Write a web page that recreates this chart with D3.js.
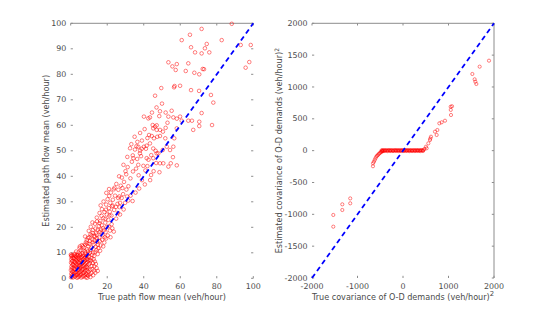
<!DOCTYPE html>
<html><head><meta charset="utf-8">
<script src="https://cdn.jsdelivr.net/npm/d3@7"></script>
<style>
html,body{margin:0;padding:0;background:#fff;}
svg text{font-family:"DejaVu Sans",sans-serif;fill:#4a4a4a;}
</style></head>
<body><svg id="chart" width="546" height="313"></svg>
<script>
// ---------- data ----------
const pathTicks = [0,10,20,30,40,50,60,70,80,90,100];
const pathXTicks = [0,20,40,60,80,100];
const covTicks = [-2000,-1500,-1000,-500,0,500,1000,1500,2000];
const covXTicks = [-2000,-1000,0,1000,2000];

// [true mean, estimated mean]
const pathPoints = [
[0.2,0.4],[0.3,1.8],[0.1,3.2],[0.4,4.6],[0.2,6.1],[0.3,7.4],[0.2,8.7],[0.5,9.0],
[1.2,0.3],[1.4,1.5],[1.1,2.9],[1.5,4.1],[1.3,5.5],[1.0,6.8],[1.6,8.0],[1.2,8.9],
[2.3,0.6],[2.6,2.0],[2.2,3.4],[2.7,4.9],[2.4,6.2],[2.8,7.6],[2.5,8.8],
[3.5,0.2],[3.7,1.4],[3.3,2.7],[3.9,4.0],[3.6,5.3],[3.4,6.7],[3.8,8.1],[3.5,9.1],
[4.6,0.8],[4.9,2.2],[4.4,3.5],[4.8,4.8],[4.5,6.0],[4.9,7.3],[4.7,8.6],
[5.8,0.3],[5.6,1.6],[6.1,3.0],[5.7,4.4],[6.0,5.7],[5.9,7.0],[6.2,8.3],
[7.0,0.9],[7.3,2.3],[6.9,3.7],[7.4,5.1],[7.1,6.4],[7.5,7.8],[7.2,9.0],
[8.2,0.4],[8.5,1.8],[8.1,3.2],[8.6,4.6],[8.3,6.0],[8.7,7.3],[8.4,8.8],
[9.5,1.0],[9.8,2.5],[9.3,4.0],[9.9,5.5],[9.6,7.0],[10.1,8.4],[9.7,9.6],
[0.7,1.1],[0.8,2.5],[0.6,3.9],[0.9,5.3],[0.7,6.7],[0.8,8.1],[0.1,9.3],
[1.9,1.0],[1.8,2.3],[2.0,3.8],[1.9,5.0],[2.0,6.5],[1.8,7.8],[2.1,9.2],
[3.0,1.2],[2.9,2.4],[3.1,4.3],[3.0,5.8],[3.1,7.1],[2.9,8.4],
[4.1,0.5],[4.2,2.0],[4.0,3.2],[4.3,4.6],[4.1,6.4],[4.2,7.7],[4.0,9.0],
[5.2,1.2],[5.3,2.6],[5.1,3.9],[5.3,5.2],[5.2,6.6],[5.4,8.0],[5.3,9.2],
[6.5,0.6],[6.6,2.1],[6.4,3.5],[6.6,4.8],[6.5,6.1],[6.7,7.4],[6.6,8.8],
[7.8,1.2],[7.7,2.7],[7.9,4.2],[7.7,5.6],[7.8,7.0],[7.9,8.3],
[9.0,0.2],[8.9,1.4],[9.1,3.1],[8.9,4.4],[9.1,6.3],[8.9,7.7],[9.2,9.0],
[10.8,0.5],[11.2,2.0],[10.6,3.4],[11.5,4.8],[12.3,1.2],[12.8,3.0],[13.5,2.2],[12.1,6.0],
[14.2,4.0],[13.8,5.6],[11.0,6.9],[12.6,7.5],[3.0,10.5],[5.0,12.5],[2.2,9.6],
[10.3,1.6],[10.5,5.9],[11.8,3.6],[11.3,7.9],[12.9,4.7],[13.2,6.6],[14.8,2.9],[10.4,7.3],
[4.2,10.1],[5.5,11.0],[6.4,9.8],[7.8,10.6],[8.9,11.3],[10.5,10.0],[11.8,9.2],[12.9,8.8],
[13.5,10.4],[14.8,9.5],[9.6,12.6],[7.2,12.1],[6.1,13.0],[8.3,14.1],[10.2,13.5],[11.4,12.0],
[12.5,13.2],[13.7,12.4],[15.2,11.8],[16.3,12.9],[14.5,14.4],[11.9,15.1],[9.4,15.8],[7.9,16.4],
[10.8,17.2],[12.7,16.6],[13.9,17.8],[15.6,16.0],[17.2,15.1],[18.4,14.0],[16.8,17.6],[14.8,19.0],
[12.2,18.9],[11.0,20.2],[13.3,21.4],[15.4,20.5],[17.6,19.6],[19.1,18.1],[20.3,16.8],[21.5,18.7],
[18.9,21.8],[16.2,22.5],[17.9,23.6],[20.6,22.9],[22.4,21.2],[19.8,25.0],
[5.0,9.6],[6.8,10.9],[8.1,9.7],[9.4,10.6],[11.0,11.1],[12.3,10.1],[14.1,11.1],[4.8,11.8],
[6.7,12.6],[7.9,13.2],[9.0,13.6],[10.6,14.6],[12.0,14.1],[13.1,14.9],[14.9,13.1],[16.0,14.6],
[8.8,15.0],[10.2,16.1],[11.4,16.8],[13.3,16.3],[14.3,15.7],[15.9,18.2],[17.5,16.9],[18.7,16.1],
[12.0,17.8],[13.5,19.5],[15.8,21.6],[17.0,20.8],[18.2,18.8],[19.6,20.1],[16.5,19.1],[14.2,17.1],
[9.9,18.6],[11.9,21.9],[14.4,22.3],[16.9,24.5],[19.0,23.3],[21.2,24.6],[20.8,20.4],[22.8,19.6],
[16.1,10.8],[17.8,12.5],[19.4,15.6],[21.8,16.1],[23.6,18.3],
[14.3,23.8],[15.8,25.6],[17.1,27.1],[18.5,26.0],[20.9,27.5],[22.3,24.6],[23.8,26.8],[24.9,23.4],
[21.7,29.6],[19.4,28.9],[23.1,30.8],[25.6,29.2],[26.8,27.9],[27.9,31.5],[24.3,32.4],[22.0,33.6],
[26.1,34.7],[28.7,33.0],[29.8,29.6],[30.5,34.8],[27.4,36.3],[25.0,37.0],[29.2,37.8],[31.6,36.1],
[32.8,32.4],[33.9,30.3],[20.2,31.0],[18.0,30.1],
[16.4,28.6],[19.3,26.9],[21.4,26.1],[24.8,28.0],[25.9,25.6],[22.6,28.2],[26.6,32.1],[23.6,34.9],
[28.3,35.4],[30.9,32.1],[27.0,29.6],[21.1,32.3],
[28.0,39.5],[30.4,40.8],[32.7,39.2],[34.1,41.9],[31.2,43.6],[28.9,44.5],[33.5,45.7],[35.8,43.0],
[37.2,40.4],[36.4,46.8],[34.0,48.2],[31.0,47.6],[38.5,47.9],[39.8,44.1],[40.9,42.3],[42.6,46.5],
[38.0,50.1],[36.0,51.8],[33.2,52.6],[41.2,50.8],[44.1,48.3],[46.8,45.2],[48.6,41.6],[45.4,42.0],
[43.5,38.5],[40.6,36.8],[37.5,35.2],[35.5,33.6],
[34.3,47.1],[37.9,49.0],[41.6,47.1],[45.2,47.1],[48.0,49.0],[48.9,45.1],[50.7,45.1],[53.5,43.8],
[54.8,45.1],[58.1,44.3],[56.0,47.5],
[32.5,51.0],[35.2,50.5],[37.0,51.6],[38.9,50.8],[40.1,51.6],[41.6,52.0],[43.4,52.9],[45.2,50.9],
[47.1,49.0],[50.4,50.3],[52.6,51.6],[54.4,50.3],[56.2,51.6],
[42.9,56.2],[44.4,55.8],[45.6,54.9],[47.4,55.5],[48.9,55.8],[51.8,54.9],[56.7,54.9],[58.1,58.8],
[44.9,60.1],[46.2,59.5],[47.1,60.0],[45.2,58.8],[47.1,58.2],[48.9,58.2],
[40.1,63.4],[42.5,62.7],[43.4,63.1],
[48.9,65.5],[48.5,63.6],[55.3,65.7],[53.5,63.4],[56.2,63.1],[58.1,62.6],[59.9,63.4],[60.8,61.8],
[64.4,61.8],[66.4,61.8],[67.1,58.2],[70.4,61.4],[70.4,59.7],[77.4,60.1],[71.7,64.8],[78.1,68.9],
[46.2,71.6],[49.6,74.6],[56.6,74.9],[56.9,75.4],[59.9,75.5],[65.9,73.8],[70.3,73.5],[76.8,71.9],
[53.5,84.7],[55.7,83.1],[57.5,81.7],[58.1,84.0],[64.4,84.3],[63.0,81.3],[67.7,80.6],[70.4,80.0],
[72.3,82.1],[73.0,82.0],
[60.8,93.4],[65.3,95.5],[65.9,90.6],[68.1,88.6],[71.7,97.8],[74.5,91.9],[73.5,90.2],[71.7,88.2],
[75.9,88.6],[82.7,93.4],[88.2,99.8],[93.1,91.5],[98.6,91.5],[97.8,84.8],[95.8,82.6],
[35.0,55.5],[38.0,57.0],[40.5,58.5],[39.0,54.0],[36.5,53.5],[42.0,55.0],[50.5,57.5],[52.0,59.0],
[53.0,61.0],[52.0,65.0],[50.0,68.5],[44.5,65.0],[47.0,67.0],[37.0,44.5],[39.0,38.5],[42.0,44.0],
[44.0,40.5],[46.5,50.0],[30.0,42.0],[26.5,40.0],[24.0,35.5],[23.0,28.5],[27.0,25.0],[29.0,27.0],
[31.5,30.5],[26.0,31.5],[21.0,35.0],[19.5,33.5]
];

// [true covariance, estimated covariance]
const covPoints = [
[-1532,-1010],[-1532,-1194],[-1334,-843],[-1334,-932],[-1160,-750],[-1160,-827],
[-660,-245],[-659,-199],[-640,-175],[-622,-147],[-605,-120],[-587,-95],[-570,-80],[-550,-68],
[-530,-50],[-513,-42],[-495,-28],[-480,-20],[-460,-12],[-440,-8],
[-470,5],[-450,8],[-430,3],[-410,6],[-390,4],[-370,7],[-350,2],[-330,5],[-310,8],[-290,3],
[-270,6],[-250,4],[-230,7],[-210,2],[-190,5],[-170,8],[-150,3],[-130,6],[-110,4],[-90,7],
[-70,2],[-50,5],[-30,8],[-10,3],[10,6],[30,4],[50,7],[70,2],[90,5],[110,8],[130,3],[150,6],
[170,4],[190,7],[210,2],[230,5],[250,8],[270,3],[290,6],[310,4],[330,7],[350,2],[370,5],
[390,8],[410,3],[430,6],
[-460,-6],[-400,-4],[-340,-7],[-280,-5],[-220,-6],[-160,-4],[-100,-7],[-40,-5],[20,-6],
[80,-4],[140,-7],[200,-5],[260,-6],[320,-4],[380,-7],[440,-5],
[450,10],[470,25],[505,62],[520,37],[557,115],[593,167],[615,219],[600,190],
[703,298],[740,246],[755,324],[799,429],[850,445],[923,470],
[1048,690],[1050,640],[1055,560],[1077,697],
[1524,1204],[1575,1120],[1590,1083],[1612,1047],[1685,1319],[1890,1413]
];

// ---------- drawing ----------
const svg = d3.select("#chart");

function panel(cfg){
  const g = svg.append("g");
  const x = d3.scaleLinear().domain(cfg.dom).range([cfg.x0, cfg.x1]);
  const y = d3.scaleLinear().domain(cfg.dom).range([cfg.y0, cfg.y1]);
  const axCol = "#8c8c8c";
  g.append("line").attr("x1",cfg.x0).attr("x2",cfg.x1).attr("y1",cfg.y1).attr("y2",cfg.y1)
    .attr("stroke",axCol).attr("stroke-width",1);
  if (cfg.rightLine) g.append("line").attr("x1",cfg.x1).attr("x2",cfg.x1).attr("y1",cfg.y1).attr("y2",cfg.y0)
    .attr("stroke",axCol).attr("stroke-width",1);
  const tl = 2.2;
  cfg.yTicks.forEach(t=>{
    g.append("line").attr("x1",cfg.x0).attr("x2",cfg.x0+tl).attr("y1",y(t)).attr("y2",y(t)).attr("stroke",axCol);
    g.append("line").attr("x1",cfg.x1-tl).attr("x2",cfg.x1).attr("y1",y(t)).attr("y2",y(t)).attr("stroke",axCol);
    g.append("text").attr("x",cfg.x0-4.5).attr("y",y(t)).attr("dy","0.34em")
      .attr("text-anchor","end").attr("font-size",cfg.fs).text(t);
  });
  cfg.xTicks.forEach(t=>{
    g.append("line").attr("x1",x(t)).attr("x2",x(t)).attr("y1",cfg.y0).attr("y2",cfg.y0-tl).attr("stroke",axCol);
    g.append("line").attr("x1",x(t)).attr("x2",x(t)).attr("y1",cfg.y1).attr("y2",cfg.y1+tl).attr("stroke",axCol);
    g.append("text").attr("x",x(t)).attr("y",cfg.y0+11).attr("text-anchor","middle")
      .attr("font-size",cfg.fs).text(t);
  });
  g.append("g").selectAll("circle").data(cfg.data).join("circle")
    .attr("cx",d=>x(d[0])).attr("cy",d=>y(d[1])).attr("r",cfg.r)
    .attr("fill","none").attr("stroke","#ff0000").attr("stroke-width",0.5);
  g.append("line").attr("x1",x(cfg.dom[0])).attr("y1",y(cfg.dom[0]))
    .attr("x2",x(cfg.dom[1])).attr("y2",y(cfg.dom[1]))
    .attr("stroke","#0000ff").attr("stroke-width",1.8).attr("stroke-dasharray","5,3.6");
  const xt = g.append("text").attr("x",(cfg.x0+cfg.x1)/2).attr("y",cfg.y0+21.5)
    .attr("text-anchor","middle").attr("font-size",cfg.tfs).text(cfg.xTitle);
  if (cfg.sup) xt.append("tspan").attr("dy","-3.5").attr("font-size",cfg.tfs*0.85).text("2");
  const yt = g.append("text").attr("transform",`translate(${cfg.ytx},${(cfg.y0+cfg.y1)/2}) rotate(-90)`)
    .attr("text-anchor","middle").attr("font-size",cfg.tfs).text(cfg.yTitle);
  if (cfg.sup) yt.append("tspan").attr("dy","-3").attr("font-size",cfg.tfs*0.75).text("2");
}

panel({dom:[0,100], x0:70.7, x1:253.3, y0:278.3, y1:23.3, yTicks:pathTicks, xTicks:pathXTicks,
  data:pathPoints, r:1.8, fs:7.9, tfs:8.1, rightLine:false, ytx:48.5,
  xTitle:"True path flow mean (veh/hour)", yTitle:"Estimated path flow mean (veh/hour)", sup:false});
panel({dom:[-2000,2000], x0:312, x1:494, y0:278, y1:23.3, yTicks:covTicks, xTicks:covXTicks,
  data:covPoints, r:1.6, fs:7.9, tfs:8.1, rightLine:true, ytx:281.5,
  xTitle:"True covariance of O-D demands (veh/hour)", yTitle:"Estimated covariance of O-D demands (veh/hour)", sup:true});
</script></body></html>
